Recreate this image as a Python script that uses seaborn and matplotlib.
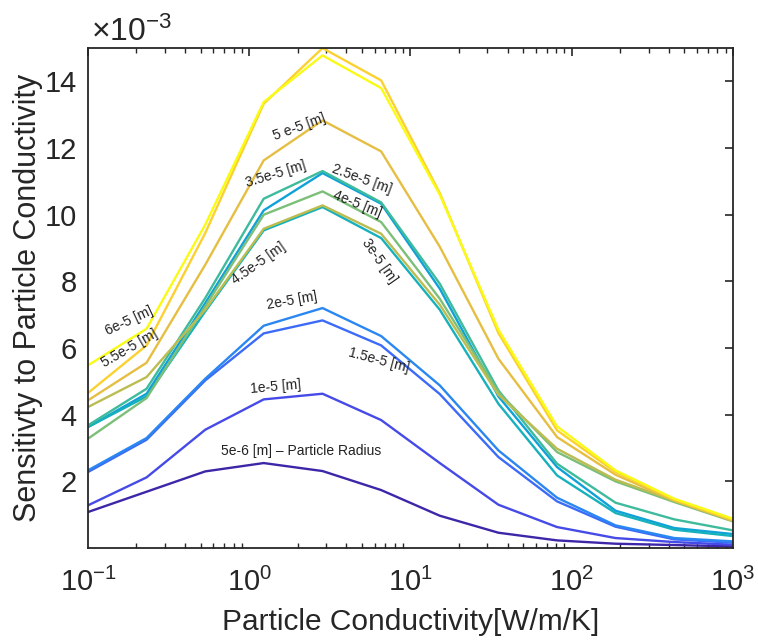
import numpy as np
import pandas as pd
import matplotlib
matplotlib.use("Agg")
import matplotlib.pyplot as plt
import seaborn as sns
from matplotlib.colors import LinearSegmentedColormap
from matplotlib.ticker import LogLocator, FixedLocator, NullFormatter

# ---------------- data (sensitivity values in units of 1e-3) ----------------
conductivity = [0.1, 0.231, 0.534, 1.23, 2.85, 6.58, 15.2, 35.1, 81.1, 187, 433, 1000]
radii = ["5e-6", "1e-5", "1.5e-5", "2e-5", "2.5e-5", "3e-5",
         "3.5e-5", "4e-5", "4.5e-5", "5e-5", "5.5e-5", "6e-5"]

s_r5e6   = [1.08, 1.69, 2.30, 2.55, 2.31, 1.74, 0.97, 0.46, 0.23, 0.13, 0.09, 0.05]
s_r1e5   = [1.28, 2.12, 3.55, 4.46, 4.63, 3.84, 2.55, 1.30, 0.63, 0.30, 0.18, 0.10]
s_r1_5e5 = [2.28, 3.25, 5.03, 6.44, 6.83, 6.08, 4.62, 2.73, 1.40, 0.64, 0.26, 0.16]
s_r2e5   = [2.33, 3.30, 5.08, 6.67, 7.20, 6.36, 4.88, 2.93, 1.51, 0.68, 0.30, 0.20]
s_r2_5e5 = [3.63, 4.63, 7.35, 10.13, 11.25, 10.33, 7.78, 4.55, 2.43, 1.12, 0.60, 0.42]
s_r3e5   = [3.63, 4.55, 7.10, 9.53, 10.23, 9.30, 7.15, 4.33, 2.18, 1.05, 0.55, 0.36]
s_r3_5e5 = [3.68, 4.78, 7.50, 10.48, 11.31, 10.37, 7.93, 4.73, 2.53, 1.36, 0.86, 0.53]
s_r4e5   = [3.28, 4.50, 7.25, 10.00, 10.70, 9.78, 7.48, 4.68, 2.88, 2.00, 1.38, 0.80]
s_r4_5e5 = [4.23, 5.13, 7.15, 9.58, 10.28, 9.43, 7.30, 4.60, 2.98, 2.05, 1.42, 0.82]
s_r5e5   = [4.43, 5.56, 8.50, 11.63, 12.83, 11.90, 9.04, 5.68, 3.33, 2.20, 1.42, 0.82]
s_r5_5e5 = [4.65, 6.08, 9.45, 13.33, 15.00, 14.03, 10.65, 6.45, 3.53, 2.28, 1.45, 0.85]
s_r6e5   = [5.48, 6.58, 9.70, 13.38, 14.78, 13.80, 10.60, 6.55, 3.65, 2.33, 1.48, 0.88]

series = [s_r5e6, s_r1e5, s_r1_5e5, s_r2e5, s_r2_5e5, s_r3e5,
          s_r3_5e5, s_r4e5, s_r4_5e5, s_r5e5, s_r5_5e5, s_r6e5]

annotations = [
    ("6e-5 [m]", 0.18, 6.82, 25),
    ("5.5e-5 [m]", 0.18, 5.98, 30),
    ("5 e-5 [m]", 2.05, 12.64, 20),
    ("3.5e-5 [m]", 1.47, 11.23, 17),
    ("2.5e-5 [m]", 4.97, 11.08, -20),
    ("4e-5 [m]", 4.69, 10.33, -22),
    ("4.5e-5 [m]", 1.15, 8.54, 35),
    ("3e-5 [m]", 6.41, 8.63, -55),
    ("2e-5 [m]", 1.85, 7.42, 10),
    ("1.5e-5 [m]", 6.41, 5.62, -15),
    ("1e-5 [m]", 1.47, 4.84, 5),
    ("5e-6 [m] \u2013 Particle Radius", 2.1, 2.92, 0),
]

# ---------------- build long-form table ----------------
rows = []
for r, vals in zip(radii, series):
    for k, s in zip(conductivity, vals):
        rows.append({"k": k, "S": s, "radius": r})
df = pd.DataFrame(rows)

# parula-like colormap
parula_anchors = [
    (0.000, (0.2422, 0.1504, 0.6603)),
    (0.111, (0.2810, 0.3228, 0.9579)),
    (0.238, (0.1986, 0.4969, 0.9796)),
    (0.365, (0.0590, 0.6298, 0.8457)),
    (0.492, (0.1000, 0.7200, 0.6900)),
    (0.619, (0.4420, 0.7481, 0.4998)),
    (0.746, (0.7758, 0.7406, 0.2887)),
    (0.873, (0.9892, 0.7513, 0.2396)),
    (1.000, (0.9769, 0.9839, 0.0805)),
]
parula = LinearSegmentedColormap.from_list("parula", parula_anchors)
colors = [parula(i / (len(radii) - 1)) for i in range(len(radii))]

# ---------------- plot ----------------
sns.set_style("white")
plt.rcParams["font.family"] = ["Liberation Sans", "DejaVu Sans"]
plt.rcParams["mathtext.fontset"] = "custom"
plt.rcParams["mathtext.rm"] = "Liberation Sans"
plt.rcParams["mathtext.it"] = "Liberation Sans:italic"

fig = plt.figure(figsize=(7.58, 6.41), dpi=100)
ax = fig.add_axes([0.116, 0.145, 0.851, 0.780])

sns.lineplot(data=df, x="k", y="S", hue="radius", hue_order=radii,
             palette=colors, legend=False, linewidth=1.7, ax=ax,
             estimator=None, sort=False)

ax.set_xscale("log")
ax.set_xlim(0.1, 1000)
ax.set_ylim(0, 15)
ax.yaxis.set_major_locator(FixedLocator([2, 4, 6, 8, 10, 12, 14]))
ax.xaxis.set_major_locator(LogLocator(base=10, numticks=10))
ax.xaxis.set_minor_locator(LogLocator(base=10, subs=np.arange(2, 10), numticks=20))
ax.xaxis.set_minor_formatter(NullFormatter())

txtc = "#262626"
ax.tick_params(axis="both", which="major", direction="in", length=6, width=1.2,
               top=True, right=True, labelsize=21, colors=txtc)
ax.tick_params(axis="x", which="major", pad=14)
ax.tick_params(axis="y", which="major", pad=8)
ax.tick_params(axis="x", which="minor", direction="in", length=3.5, width=1.0,
               top=True, bottom=True, colors=txtc)
for sp in ax.spines.values():
    sp.set_color(txtc)
    sp.set_linewidth(1.3)

ax.set_xlabel("Particle Conductivity[W/m/K]", fontsize=21.5, color=txtc, labelpad=8)
ax.set_ylabel("Sensitivty to Particle Conductivity", fontsize=22, color=txtc, labelpad=1)

ax.text(0.005, 1.0, r"$\times10^{-3}$", transform=ax.transAxes,
        fontsize=23, color=txtc, ha="left", va="bottom")

for txt, x, y, rot in annotations:
    ax.text(x, y, txt, fontsize=10, color="#222222", rotation=rot,
            rotation_mode="anchor", ha="center", va="center")

fig.savefig("out.png", dpi=100)
